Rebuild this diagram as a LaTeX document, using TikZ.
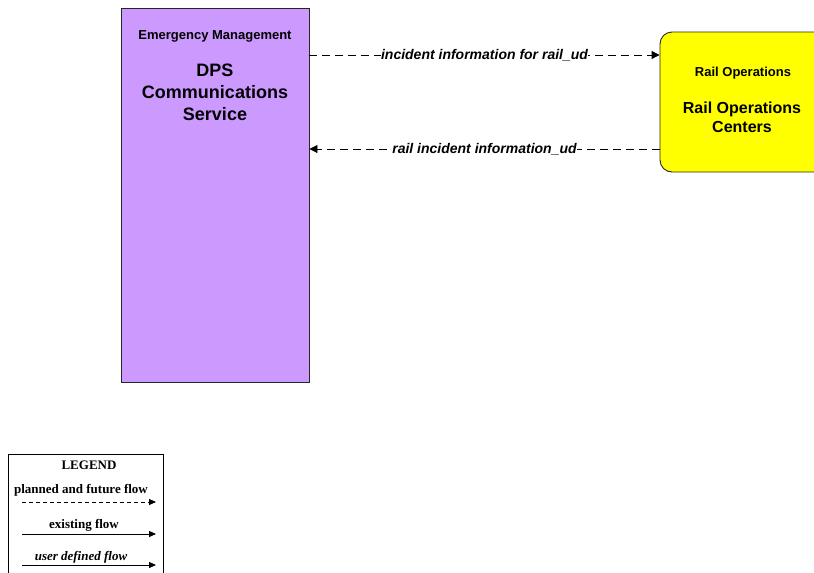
\documentclass[tikz,border=0pt]{standalone}
\usepackage{fontspec}
\setmainfont{Liberation Serif}
\setsansfont{Liberation Sans}
\usepackage{xcolor}
\usepackage{tikz}
\usetikzlibrary{arrows.meta}
\usetikzlibrary{positioning}

\definecolor{dpspurple}{RGB}{204,153,255}
\definecolor{railyellow}{RGB}{255,255,0}

\tikzset{
  sysbox/.style={draw=black!85, line width=0.9pt, inner sep=0pt},
  cattext/.style={font=\sffamily\bfseries\fontsize{13}{15}\selectfont, inner sep=0pt},
  flowline/.style={line width=0.9pt, dash pattern=on 8pt off 5pt, -{Triangle[length=8pt,width=8pt]}},
  flowlabel/.style={font=\sffamily\bfseries\itshape\fontsize{14}{16}\selectfont, fill=white, inner sep=0pt},
  legtext/.style={font=\bfseries\fontsize{13}{15}\selectfont, inner sep=0pt},
  legline/.style={line width=0.8pt, -{Triangle[length=7pt,width=6pt]}}
}

\begin{document}
\begin{tikzpicture}[x=1pt, y=-1pt]
  \useasboundingbox (0,0) rectangle (814,573);
  \clip (0,0) rectangle (814,573);

  % Define nodes
  \node[sysbox, fill=dpspurple, minimum width=188pt, minimum height=374pt] (dps) at (215,195) {};
  \node[cattext] (dpscat) at (215,36) {Emergency Management};
  \node[cattext, font=\sffamily\bfseries\fontsize{18}{22}\selectfont, align=center] (dpsname) at (215,92) {DPS\\Communications\\Service};

  \node[sysbox, fill=railyellow, rounded corners=12pt, minimum width=168pt, minimum height=140pt] (rail) at (744,102) {};
  \node[cattext] (railcat) at (743,73) {Rail Operations};
  \node[cattext, font=\sffamily\bfseries\fontsize{16}{19}\selectfont, align=center] (railname) at (742,117) {Rail Operations\\Centers};

  % Connect nodes
  \draw[flowline] (dps.east |- 0,55) -- node[flowlabel] {incident information for rail\_ud} (rail.west |- 0,55);
  \draw[flowline] (rail.west |- 0,149) -- node[flowlabel] {rail incident information\_ud} (dps.east |- 0,149);

  % Legend
  \node[draw=black, line width=0.8pt, minimum width=155pt, minimum height=140pt] (legend) at (85.5,524) {};
  \node[legtext] (legtitle) at (89,465) {LEGEND};
  \node[legtext] (legplanned) at (81,490) {planned and future flow};
  \node[legtext] (legexisting) at (84,525) {existing flow};
  \node[legtext, font=\bfseries\itshape\fontsize{13}{15}\selectfont] (leguser) at (81,557) {user defined flow};
  \coordinate (pa) at (22,502);
  \coordinate (pb) at (156,502);
  \coordinate (ea) at (22,534);
  \coordinate (eb) at (156,534);
  \coordinate (ua) at (22,565);
  \coordinate (ub) at (156,565);
  \draw[legline, dash pattern=on 4pt off 3pt] (pa) -- (pb);
  \draw[legline] (ea) -- (eb);
  \draw[legline] (ua) -- (ub);

\end{tikzpicture}
\end{document}
